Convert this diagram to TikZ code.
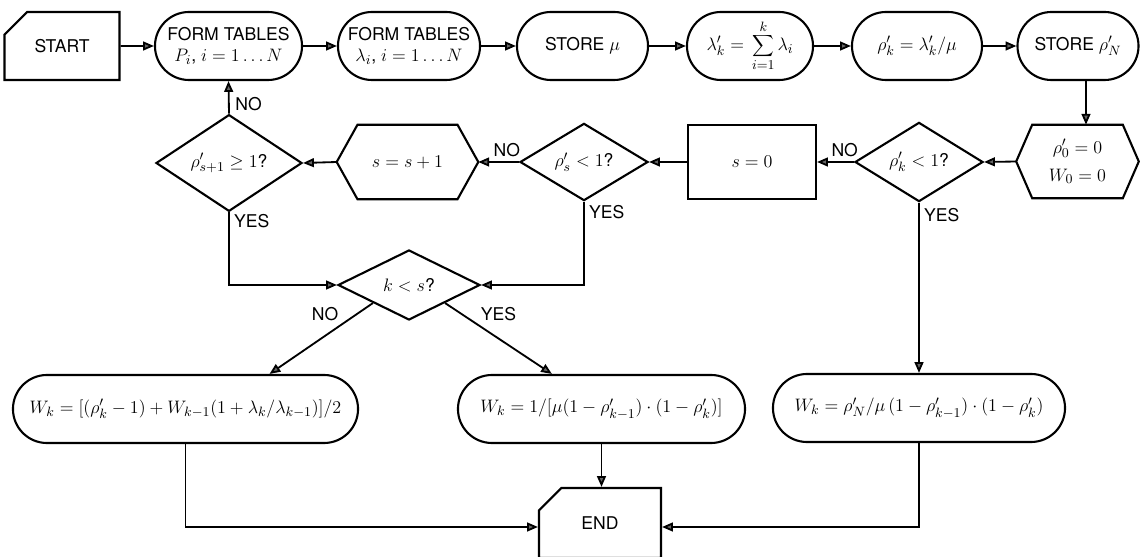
\documentclass[tikz,border=0pt]{standalone}
\usepackage{graphicx}
\usepackage{fontspec}
\setmainfont{TeX Gyre Heros}
\usetikzlibrary{shapes.geometric,shapes.misc,arrows.meta,calc}
\newcommand\mth[1]{\scalebox{1.07}{$#1$}}
\begin{document}
\begin{tikzpicture}[x=0.025cm,y=-0.025cm,
  every node/.style={font=\fontsize{12.5}{15}\selectfont, inner sep=0pt, align=center},
  box/.style={draw, line width=1.5pt},
  stad/.style={box, rounded rectangle, minimum height=1.7cm},
  dia/.style={box, diamond},
  hexo/.style={line width=1.5pt, line join=miter},
  card/.style={box, chamfered rectangle, chamfered rectangle corners={north west}, chamfered rectangle xsep=0.45cm, chamfered rectangle ysep=0.4cm},
  flow/.style={line width=1.3pt, -{Triangle[length=0.27cm,width=0.22cm,fill=black!60]}},
  lab/.style={font=\fontsize{12.5}{15}\selectfont}]
\useasboundingbox (0,0) rectangle (1140,557);
\clip (0,0) rectangle (1140,557);

% top row
\node[card, minimum width=2.875cm, minimum height=1.7cm] (start) at (62,46) {START};
\node[stad, minimum width=3.675cm] (ft1) at (228.5,46) {FORM TABLES\\\mth{P_i}, \mth{i=1\ldots N}};
\node[stad, minimum width=3.55cm] (ft2) at (409,46) {FORM TABLES\\\mth{\lambda_i}, \mth{i=1\ldots N}};
\node[stad, minimum width=3.275cm] (stmu) at (582.5,46) {STORE \mth{\mu}};
\node[stad, minimum width=3.15cm] (lam) at (750,46) {\mth{\displaystyle\lambda'_k=\,\sum_{i=1}^{k}\lambda_i}};
\node[stad, minimum width=3.25cm] (rho) at (917,46) {\mth{\rho'_k=\lambda'_k/\mu}};
\node[stad, minimum width=3.025cm] (strho) at (1078,46) {STORE \mth{\rho'_N}};

% second row
\node[minimum width=3.05cm, minimum height=1.825cm] (init) at (1077.5,161.5) {\mth{\rho'_0=0}\\[5pt]\mth{W_0=0}};
\draw[hexo] (init.west) -- ([xshift=0.4cm]init.north west) -- ([xshift=-0.4cm]init.north east) -- (init.east) -- ([xshift=-0.4cm]init.south east) -- ([xshift=0.4cm]init.south west) -- cycle;
\node[dia, minimum width=3.2cm, minimum height=1.8cm] (dk) at (919,162) {\mth{\rho'_k<1}?};
\node[box, rectangle, minimum width=3.2cm, minimum height=1.85cm] (s0) at (752,162) {\mth{s=0}};
\node[dia, minimum width=3.2cm, minimum height=1.85cm] (ds) at (584,162) {\mth{\rho'_s<1}?};
\node[minimum width=3.525cm, minimum height=1.85cm] (inc) at (407.5,162) {\mth{s=s+1}};
\draw[hexo] (inc.west) -- ([xshift=0.52cm]inc.north west) -- ([xshift=-0.52cm]inc.north east) -- (inc.east) -- ([xshift=-0.52cm]inc.south east) -- ([xshift=0.52cm]inc.south west) -- cycle;
\node[dia, minimum width=3.65cm, minimum height=1.825cm] (ds1) at (229,163) {\mth{\rho'_{s+1}\geq 1}?};

% decision k<s
\node[dia, minimum width=3.55cm, minimum height=1.75cm] (ks) at (409,285) {\mth{k<s}?};

% bottom formulas
\node[stad, minimum width=8.625cm] (wl) at (185.5,409) {\mth{W_k=\bigl[(\rho'_k-1)+W_{k-1}(1+\lambda_k/\lambda_{k-1})\bigr]/2}};
\node[stad, minimum width=7.175cm] (wm) at (601.5,409) {\mth{W_k=1/\bigl[\mu(1-\rho'_{k-1})\cdot(1-\rho'_k)\bigr]}};
\node[stad, minimum width=7.3cm] (wr) at (919,408) {\mth{W_k=\rho'_N/\mu\,(1-\rho'_{k-1})\cdot(1-\rho'_k)}};

% END
\node[card, minimum width=3.05cm, minimum height=1.75cm] (end) at (600,523) {END};

% connectors top row
\draw[flow] (start) -- (ft1);
\draw[flow] (ft1) -- (ft2);
\draw[flow] (ft2) -- (stmu);
\draw[flow] (stmu) -- (lam);
\draw[flow] (lam) -- (rho);
\draw[flow] (rho) -- (strho);
\draw[flow] ([xshift=0.2cm]strho.south) -- ([xshift=0.2cm]strho.south |- init.north);

% second row
\draw[flow] (init.west) -- (dk.east);
\draw[flow] (dk.west) -- node[lab, above=3pt, pos=0.25] {NO} (s0.east);
\draw[flow] (s0.west) -- (ds.east);
\draw[flow] (ds.west) -- node[lab, above=3pt, pos=0.3] {NO} (inc.east);
\draw[flow] (inc.west) -- (ds1.east);
\draw[flow] (ds1.north) -- node[lab, right=4pt, pos=0.3] {NO} (ft1.south);

% YES branches
\draw[flow] (ds1.south) |- node[lab, right=3pt, pos=0.06] {YES} (ks.west);
\draw[flow] (ds.south) |- node[lab, right=3pt, pos=0.06] {YES} (ks.east);
\draw[flow] (dk.south) -- node[lab, right=3pt, pos=0.07] {YES} (wr.north);

% k<s branches
\draw[flow] (ks.south west) -- node[lab, above left=2pt, pos=0.3] {NO} ([xshift=2.1cm]wl.north);
\draw[flow] (ks.south east) -- node[lab, above right=2pt, pos=0.3] {YES} ([xshift=-1.24cm]wm.north);

% to END
\draw[flow] (wm.south) -- (wm.south |- end.north);
\draw[flow] (wl.south) |- ([yshift=-0.1cm]end.west);
\draw[flow] (wr.south) |- ([yshift=-0.1cm]end.east);
\end{tikzpicture}
\end{document}
